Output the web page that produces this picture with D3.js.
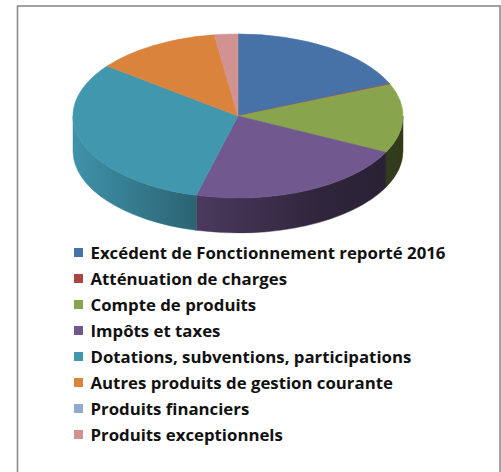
<!DOCTYPE html>
<html>
<head>
<meta charset="utf-8">
<script src="https://cdn.jsdelivr.net/npm/d3@7"></script>
<style>
  body { margin: 0; background: #fff; }
  svg { display: block; }
</style>
</head>
<body>
<div id="chart"></div>
<script>

var categories = [
  "Excédent de Fonctionnement reporté 2016",
  "Atténuation de charges",
  "Compte de produits",
  "Impôts et taxes",
  "Dotations, subventions, participations",
  "Autres produits de gestion courante",
  "Produits financiers",
  "Produits exceptionnels"
];
var values = [18.6, 0.15, 13.6, 21.8, 31.4, 12.3, 0, 2.3];
var colors = ["#4672a8", "#aa4643", "#88a54d", "#71588f", "#4197ae", "#da833c", "#93a9cf", "#d09392"];

var width = 501,
    height = 472;

var pie = {
  cx: 238,
  cy: 116,
  rx: 165,
  ry: 82,
  depth: 35
};

var svg = d3.select("#chart")
  .append("svg")
  .attr("width", width)
  .attr("height", height);

// chart frame (bottom edge falls outside the picture)
svg.append("rect")
  .attr("x", 17.5)
  .attr("y", 6)
  .attr("width", 482.5)
  .attr("height", 480)
  .attr("fill", "#fff")
  .attr("stroke", "#8a8a8a")
  .attr("stroke-width", 1.6);

var slices = d3.pie().sort(null).value(function (d) { return d; })(values);

function pt(a, dy) {
  return [pie.cx + pie.rx * Math.sin(a), pie.cy - pie.ry * Math.cos(a) + (dy || 0)];
}

// side shading goes dark from left to right
var shade = [[0, 0.97], [0.37, 0.66], [0.75, 0.42], [1, 0.36]];
var defs = svg.append("defs");
colors.forEach(function (c, i) {
  var g = defs.append("linearGradient")
    .attr("id", "side" + i)
    .attr("gradientUnits", "userSpaceOnUse")
    .attr("x1", pie.cx - pie.rx).attr("x2", pie.cx + pie.rx)
    .attr("y1", 0).attr("y2", 0);
  var rgb = d3.rgb(c);
  shade.forEach(function (s) {
    g.append("stop")
      .attr("offset", s[0])
      .attr("stop-color", d3.rgb(rgb.r * s[1], rgb.g * s[1], rgb.b * s[1]).formatHex());
  });
});

var gPie = svg.append("g");

// visible front walls
slices.forEach(function (d, i) {
  var a0 = Math.max(d.startAngle, Math.PI / 2),
      a1 = Math.min(d.endAngle, Math.PI * 3 / 2);
  if (a1 <= a0) return;
  var p0 = pt(a0), p1 = pt(a1), q1 = pt(a1, pie.depth), q0 = pt(a0, pie.depth);
  var path = "M" + p0 + "A" + pie.rx + "," + pie.ry + " 0 0 1 " + p1 +
    "L" + q1 + "A" + pie.rx + "," + pie.ry + " 0 0 0 " + q0 + "Z";
  gPie.append("path")
    .attr("d", path)
    .attr("fill", "url(#side" + i + ")")
    .attr("stroke", "url(#side" + i + ")")
    .attr("stroke-width", 0.5);
});

// top faces
slices.forEach(function (d, i) {
  if (d.endAngle - d.startAngle <= 0) return;
  var p0 = pt(d.startAngle), p1 = pt(d.endAngle);
  var large = (d.endAngle - d.startAngle) > Math.PI ? 1 : 0;
  var path = "M" + pie.cx + "," + pie.cy + "L" + p0 +
    "A" + pie.rx + "," + pie.ry + " 0 " + large + " 1 " + p1 + "Z";
  gPie.append("path")
    .attr("d", path)
    .attr("fill", colors[i])
    .attr("stroke", colors[i])
    .attr("stroke-width", 0.6)
    .attr("stroke-linejoin", "round");
});

// legend
var legend = svg.append("g")
  .attr("transform", "translate(74,253)");

var rows = legend.selectAll(".row")
  .data(categories).enter()
  .append("g")
  .attr("class", "row")
  .attr("transform", function (d, i) { return "translate(0," + (i * 26) + ")"; });

rows.append("rect")
  .attr("x", 0)
  .attr("y", -5)
  .attr("width", 9)
  .attr("height", 9)
  .attr("fill", function (d, i) { return colors[i]; });

rows.append("text")
  .attr("x", 16.5)
  .attr("y", 5.8)
  .style("font-family", "'Open Sans', sans-serif")
  .style("font-weight", "bold")
  .style("font-size", "16.8px")
  .style("fill", "#111")
  .text(function (d) { return d; });

</script>
</body>
</html>
